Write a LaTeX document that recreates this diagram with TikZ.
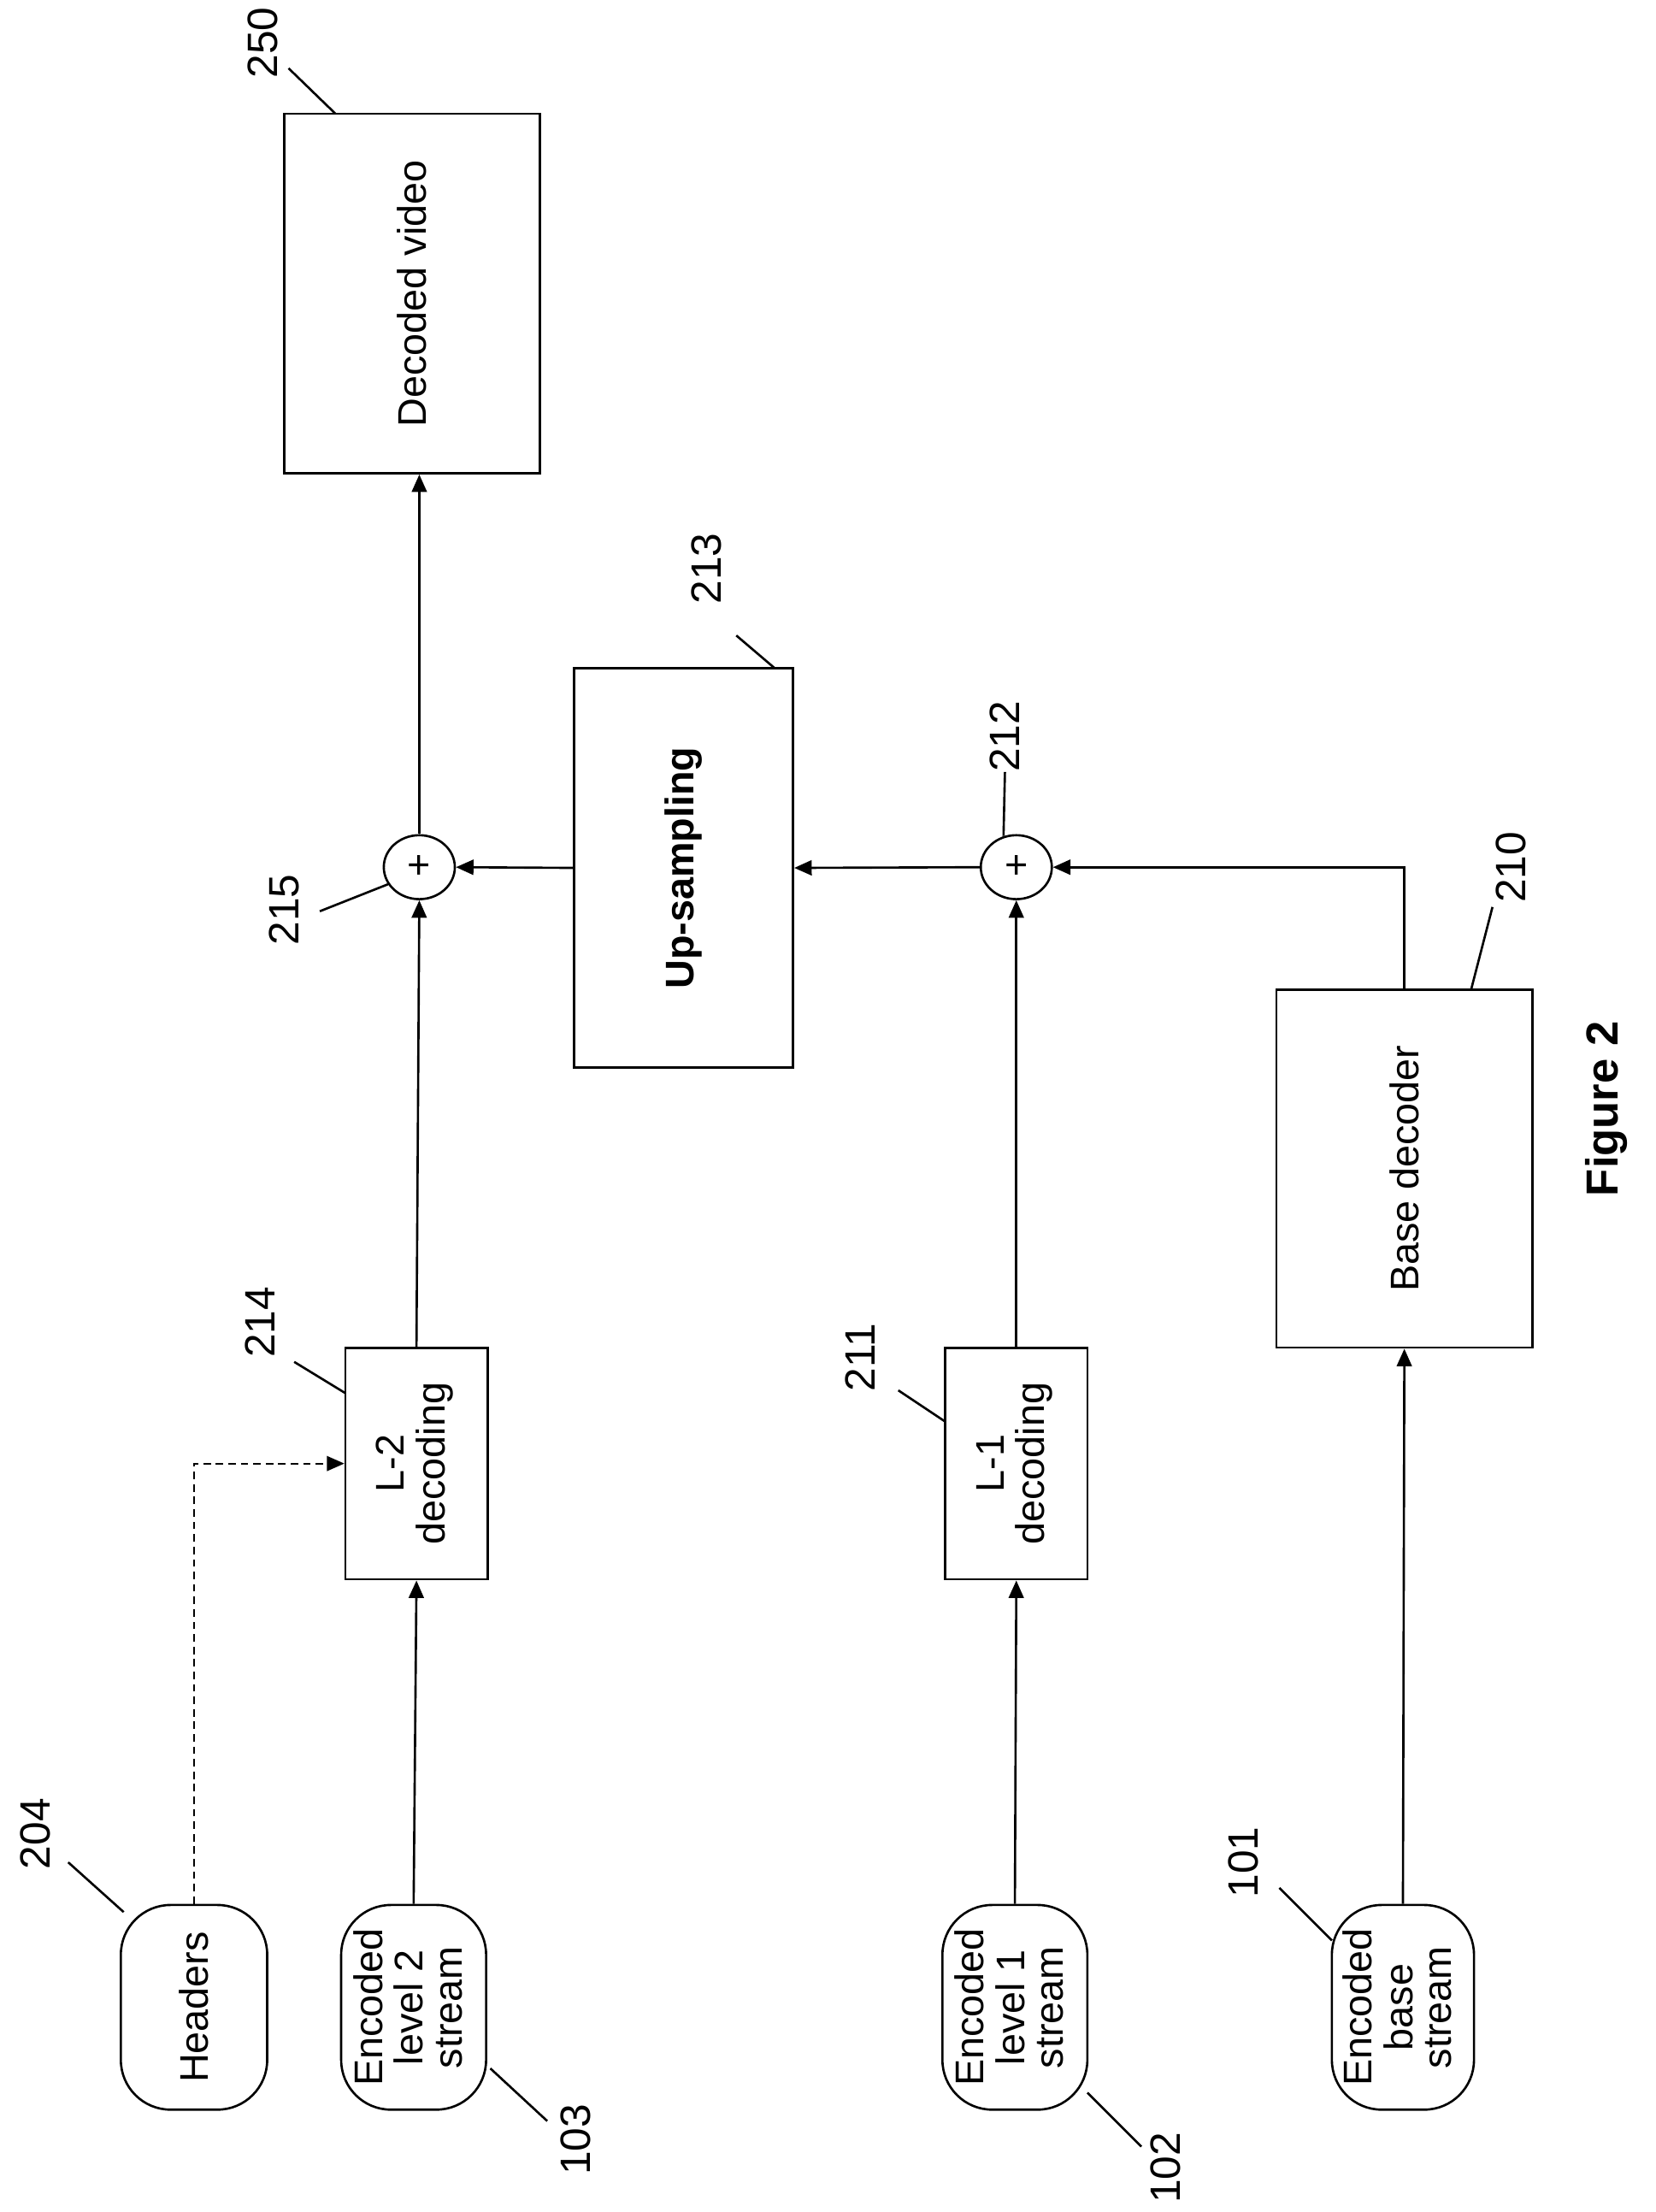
\documentclass[tikz,border=0pt]{standalone}
\usepackage{fontspec}
\setmainfont{Liberation Sans}
\usetikzlibrary{arrows.meta,shapes.geometric}
\newcommand{\mlines}[1]{\rotatebox{90}{\renewcommand{\arraystretch}{0.82}\begin{tabular}{@{}c@{}}#1\end{tabular}}}
\begin{document}
\begin{tikzpicture}[x=0.02cm,y=-0.02cm,
  every node/.style={font=\fontsize{16}{19}\selectfont},
  box/.style={draw,line width=0.9pt,inner sep=0pt},
  stream/.style={draw,line width=0.9pt,inner sep=0pt,rounded corners=0.7cm},
  sum/.style={draw,ellipse,line width=0.9pt,minimum width=1cm,minimum height=0.9cm,inner sep=0pt},
  lbl/.style={font=\fontsize{17}{20}\selectfont},
  ld/.style={line width=0.9pt},
  arr/.style={line width=0.9pt,-{Triangle[length=7pt,width=6pt]}}]
\useasboundingbox (0,0) rectangle (1165,1556);
% boxes
\node[box,minimum width=3.6cm,minimum height=5.06cm] (dv) at (290,206.5) {\rotatebox{90}{Decoded video}};
\node[box,minimum width=3.08cm,minimum height=5.62cm] (up) at (481,610.5) {\rotatebox{90}{\bfseries Up-sampling}};
\node[box,minimum width=3.6cm,minimum height=5.04cm] (bd) at (988,822) {\rotatebox{90}{Base decoder}};
\node[box,minimum width=2cm,minimum height=3.26cm] (l2) at (293,1029.5) {\mlines{L-2\\decoding}};
\node[box,minimum width=2cm,minimum height=3.26cm] (l1) at (715,1029.5) {\mlines{L-1\\decoding}};
\node[sum] (s215) at (295,610) {+};
\node[sum] (s212) at (715,610) {+};
\node[stream,minimum width=2.06cm,minimum height=2.88cm] (hd) at (136.5,1412) {\rotatebox{90}{Headers}};
\node[stream,minimum width=2.04cm,minimum height=2.88cm] (e2) at (291,1412) {\mlines{Encoded\\level 2\\stream}};
\node[stream,minimum width=2.04cm,minimum height=2.88cm] (e1) at (714,1412) {\mlines{Encoded\\level 1\\stream}};
\node[stream,minimum width=2cm,minimum height=2.88cm] (eb) at (987,1412) {\mlines{Encoded\\base\\stream}};
% labels
\node[lbl,rotate=90] (n250) at (185,30) {250};
\node[lbl,rotate=90] (n213) at (497,400) {213};
\node[lbl,rotate=90] (n215) at (200,640) {215};
\node[lbl,rotate=90] (n212) at (707,518) {212};
\node[lbl,rotate=90] (n210) at (1063,610) {210};
\node[lbl,rotate=90] (n214) at (183,930) {214};
\node[lbl,rotate=90] (n211) at (605,955) {211};
\node[lbl,rotate=90] (n204) at (25,1290) {204};
\node[lbl,rotate=90] (n103) at (405,1505) {103};
\node[lbl,rotate=90] (n102) at (820,1525) {102};
\node[lbl,rotate=90] (n101) at (875,1310) {101};
\node[rotate=90,font=\fontsize{18}{20}\selectfont\bfseries] (fig) at (1130,780) {Figure 2};
% leaders
\draw[ld] (203,48) -- (236,80);
\draw[ld] (518,447) -- (545,470);
\draw[ld] (225,641) -- (273,622);
\draw[ld] (707,543) -- (706,588);
\draw[ld] (1050,638) -- (1035,696);
\draw[ld] (207,958) -- (243,980);
\draw[ld] (632,978) -- (665,1000);
\draw[ld] (48,1310) -- (87,1345);
\draw[ld] (345,1455) -- (385,1492);
\draw[ld] (765,1472) -- (803,1510);
\draw[ld] (900,1328) -- (937,1365);
% connectors
\draw[arr,densely dashed,line width=0.7pt] (hd.north) |- (l2.west);
\draw[arr] (e2.north) -- (l2.south);
\draw[arr] (e1.north) -- (l1.south);
\draw[arr] (eb.north) -- (bd.south);
\draw[arr] (l2.north) -- (s215.south);
\draw[arr] (l1.north) -- (s212.south);
\draw[arr] (bd.north) |- (s212.east);
\draw[arr] (s212.west) -- (up.east);
\draw[arr] (up.west) -- (s215.east);
\draw[arr] (s215.north) -- (s215.north |- dv.south);
\end{tikzpicture}
\end{document}
